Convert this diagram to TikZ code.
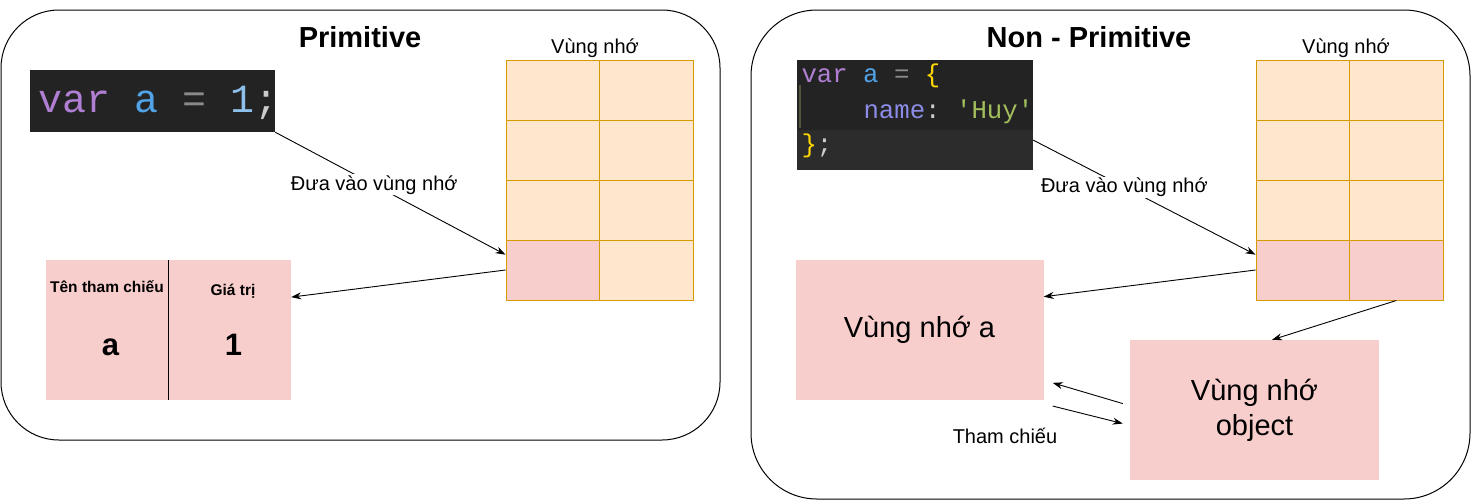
\documentclass[tikz,border=0pt]{standalone}
\usepackage{fontspec}
\setmainfont{Liberation Sans}
\setmonofont{Liberation Mono}
\usetikzlibrary{positioning,arrows.meta}

\definecolor{cellfill}{HTML}{FFE6CC}
\definecolor{celldraw}{HTML}{D79B00}
\definecolor{pinkfill}{HTML}{F8CECC}
\definecolor{codebg}{HTML}{232323}
\definecolor{codeline}{HTML}{2C2C2C}
\definecolor{kwvar}{HTML}{B07FD3}
\definecolor{varname}{HTML}{4FA3E6}
\definecolor{opcol}{HTML}{8A8A8A}
\definecolor{numcol}{HTML}{8EC0EC}
\definecolor{bracecol}{HTML}{FFD700}
\definecolor{propcol}{HTML}{8C8CE8}
\definecolor{strcol}{HTML}{A3BE5C}
\definecolor{semicol}{HTML}{CCCCCC}
\definecolor{guidecol}{HTML}{55553F}

\tikzset{
	container/.style={draw, line width=1pt},
	cell/.style={draw=celldraw, line width=1pt, minimum width=93.5pt, minimum height=60pt, inner sep=0pt},
	pinkbox/.style={fill=pinkfill, inner sep=0pt},
	codebox/.style={fill=codebg, inner sep=0pt},
	arr/.style={-{Stealth[length=10pt,width=7pt]}, line width=0.9pt},
	lbl/.style={fill=white, inner sep=1pt, font=\fontsize{20}{24}\selectfont},
	small/.style={font=\fontsize{20}{24}\selectfont},
	title/.style={font=\fontsize{29}{34}\selectfont\bfseries},
	big/.style={font=\fontsize{29}{35}\selectfont},
}

\begin{document}
\begin{tikzpicture}[x=1pt, y=-1pt]
\useasboundingbox (0,0) rectangle (1471,501);

\node[container, rounded corners=58pt, minimum width=719pt, minimum height=430pt] (lbox) at (360.5,225) {};
\node[container, rounded corners=66pt, minimum width=719pt, minimum height=489pt] (rbox) at (1110.5,254.5) {};

		\node[title, anchor=base] (ltitle) at (360,47) {Primitive};
		\node[title, anchor=base] (rtitle) at (1089,47) {Non - Primitive};
		\node[small, anchor=base] (lmem) at (595,53) {Vùng nhớ};
		\node[small, anchor=base] (rmem) at (1346,53) {Vùng nhớ};

\foreach \r/\c/\f in {1/1/cellfill,1/2/cellfill,2/1/cellfill,2/2/cellfill,3/1/cellfill,3/2/cellfill,4/1/pinkfill,4/2/cellfill}
	\node[cell, fill=\f] (lg-\r-\c) at ({506+93.5*\c-46.75},{60+60*\r-30}) {};
\foreach \r/\c/\f in {1/1/cellfill,1/2/cellfill,2/1/cellfill,2/2/cellfill,3/1/cellfill,3/2/cellfill,4/1/pinkfill,4/2/pinkfill}
	\node[cell, fill=\f] (rg-\r-\c) at ({1256+93.5*\c-46.75},{60+60*\r-30}) {};

\node[codebox, minimum width=245pt, minimum height=62pt] (lcode) at (152.5,101) {};
		\node[anchor=base west, font=\fontsize{40}{40}\ttfamily] (lline) at (35,112) {\textcolor{kwvar}{var} \textcolor{varname}{a} \textcolor{opcol}{=} \textcolor{numcol}{1}\textcolor{semicol}{;}};

\node[codebox, minimum width=236pt, minimum height=110pt] (rcode) at (915,115) {};
\fill[codeline] ([yshift=40pt]rcode.south west) rectangle (rcode.south east);
\draw[guidecol, line width=1.5pt] (800,85) -- (800,128);
		\node[anchor=base west, font=\fontsize{25.7}{30}\ttfamily] (rline1) at (798,82) {\textcolor{kwvar}{var} \textcolor{varname}{a} \textcolor{opcol}{=} \textcolor{bracecol}{\{}};
		\node[anchor=base west, font=\fontsize{25.7}{30}\ttfamily] (rline2) at (860,118) {\textcolor{propcol}{name}\textcolor{semicol}{:} \textcolor{strcol}{\textquotesingle Huy\textquotesingle}};
		\node[anchor=base west, font=\fontsize{25.7}{30}\ttfamily] (rline3) at (798,152) {\textcolor{bracecol}{\}}\textcolor{semicol}{;}};

\node[pinkbox, minimum width=245pt, minimum height=140pt] (ltab) at (168.5,330) {};
\draw[line width=1pt] (ltab.north) -- (ltab.south);
		\node[anchor=base, font=\fontsize{15.5}{18}\selectfont\bfseries] (refname) at (107,292) {Tên tham chiếu};
		\node[anchor=base, font=\fontsize{15.5}{18}\selectfont\bfseries] (refval) at (233,295) {Giá trị};
		\node[anchor=base, font=\fontsize{31}{36}\selectfont\bfseries] (aname) at (110.5,355) {a};
		\node[anchor=base, font=\fontsize{31}{36}\selectfont\bfseries] (aval) at (233.5,355) {1};

\node[pinkbox, big, minimum width=248pt, minimum height=140pt] (boxa) at (919.5,330) {Vùng nhớ a};
\node[pinkbox, big, align=center, minimum width=249pt, minimum height=140pt] (boxobj) at (1254.5,410) {Vùng nhớ\\object};
		\node[small] (refword) at (1005,436) {Tham chiếu};

\draw[arr] (lcode.south east) -- node[lbl, pos=0.43] (llbl) {Đưa vào vùng nhớ} (lg-4-1.162);
\draw[arr] (lg-4-1.west) -- (ltab.15);
\draw[arr] (rcode.-12) -- node[lbl, pos=0.41] (rlbl) {Đưa vào vùng nhớ} (rg-4-1.162);
\draw[arr] (rg-4-1.west) -- (boxa.15);
\draw[arr] (rg-4-2.south) -- (boxobj.76);
\draw[arr, shorten <=7.3pt, shorten >=9.4pt] (boxobj.178.6) -- (boxa.-22.8);
\draw[arr, shorten <=9.3pt, shorten >=7.3pt] ([yshift=-3.6pt]boxa.south east) -- (boxobj.187.7);
\end{tikzpicture}
\end{document}
